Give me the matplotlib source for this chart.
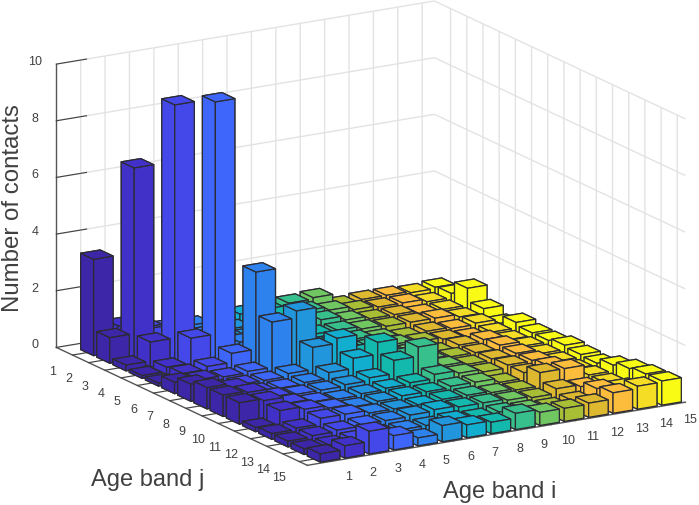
import numpy as np
import matplotlib
matplotlib.use('Agg')
import matplotlib.pyplot as plt
from mpl_toolkits.mplot3d import proj3d

plt.rcParams['font.family'] = ['Liberation Sans', 'DejaVu Sans']

# Contacts per age band, rows are band j, columns are band i
bands = list(range(1, 16))
j01 = [3.4, 0.9, 0.7, 0.55, 0.5, 0.5, 0.6, 0.6, 0.7, 0.75, 0.35, 0.4, 0.4, 0.35, 0.4]
j02 = [0.9, 6.75, 0.7, 0.5, 0.45, 0.5, 0.6, 0.7, 0.7, 0.58, 0.45, 0.4, 0.4, 0.3, 0.45]
j03 = [0.2, 0.87, 9.1, 0.7, 0.5, 0.5, 0.55, 0.7, 0.65, 0.5, 0.4, 0.4, 0.3, 0.3, 0.9]
j04 = [0.1, 0.25, 1.13, 9.33, 0.7, 0.5, 0.5, 0.55, 0.55, 0.45, 0.4, 0.4, 0.4, 0.3, 0.45]
j05 = [0.1, 0.3, 0.4, 0.72, 3.45, 0.8, 0.5, 0.5, 0.5, 0.4, 0.3, 0.35, 0.3, 0.35, 0.2]
j06 = [0.4, 0.35, 0.3, 0.35, 1.95, 2.2, 0.8, 0.5, 0.5, 0.45, 0.4, 0.34, 0.27, 0.3, 0.5]
j07 = [0.6, 0.3, 0.3, 0.3, 0.4, 1.18, 1.36, 0.7, 0.5, 0.45, 0.3, 0.4, 0.45, 0.3, 0.4]
j08 = [0.75, 0.6, 0.3, 0.3, 0.35, 0.56, 0.92, 1.34, 0.7, 0.45, 0.4, 0.4, 0.52, 0.35, 0.4]
j09 = [0.75, 0.7, 0.4, 0.35, 0.35, 0.4, 0.5, 0.97, 1.3, 0.5, 0.4, 0.45, 0.5, 0.35, 0.5]
j10 = [0.75, 0.68, 0.45, 0.35, 0.3, 0.35, 0.4, 0.45, 0.6, 0.5, 0.4, 0.5, 0.52, 0.35, 0.44]
j11 = [0.15, 0.6, 0.5, 0.4, 0.3, 0.35, 0.4, 0.4, 0.45, 0.45, 0.3, 0.5, 0.6, 0.35, 0.4]
j12 = [0.2, 0.25, 0.45, 0.45, 0.35, 0.35, 0.35, 0.4, 0.4, 0.35, 0.3, 0.77, 0.77, 0.4, 0.6]
j13 = [0.2, 0.25, 0.3, 0.35, 0.35, 0.4, 0.45, 0.4, 0.4, 0.35, 0.3, 0.47, 0.4, 0.4, 0.75]
j14 = [0.2, 0.2, 0.25, 0.3, 0.3, 0.3, 0.35, 0.3, 0.35, 0.3, 0.25, 0.32, 0.6, 0.5, 0.83]
j15 = [0.29, 0.43, 0.8, 0.5, 0.28, 0.57, 0.45, 0.4, 0.57, 0.46, 0.46, 0.5, 0.72, 0.81, 0.85]
contacts = [j01, j02, j03, j04, j05, j06, j07, j08, j09, j10, j11, j12, j13, j14, j15]

band_colors = ['#3e26a8', '#4231c9', '#4548e8', '#3f66fa', '#2d82ee', '#2196dc', '#12aecf', '#14b9ae',
               '#38c08c', '#70c660', '#a8bf35', '#deb82e', '#fcbc3c', '#f5dc25', '#f9fb15']
z_ticks = [0, 2, 4, 6, 8, 10]

text_color = '#404040'
grid_color = '#e3e3e3'
width = 0.8

fig = plt.figure(figsize=(6.99, 5.06), dpi=100)
# square axes centred on the projected box
ax = fig.add_axes([111 / 699, 12 / 506, 506 / 699, 1.0], projection='3d', proj_type='ortho', computed_zorder=False)
ax.view_init(elev=16.26, azim=-120.8)
ax.set_box_aspect((440, 490, 295), zoom=1.385)
ax.set_xlim(0, 15.5, view_margin=0)
ax.set_ylim(15.5, 0, view_margin=0)
ax.set_zlim(0, 10, view_margin=0)

# far bars first so the near ones cover them
order = 0
for i in reversed(bands):
    for j in bands:
        bar = ax.bar3d(i - width / 2, j - width / 2, 0, width, width, contacts[j - 1][i - 1],
                       color=band_colors[i - 1], edgecolor='#2b2b33', linewidth=0.9, shade=False, zorder=order)
        bar.set_clip_on(False)
        order += 1

ax.set_xticks(bands)
ax.set_yticks(bands)
ax.set_zticks(z_ticks)
ax.tick_params(colors=text_color, labelsize=1)
for axis in (ax.xaxis, ax.yaxis, ax.zaxis):
    axis.set_pane_color((1, 1, 1, 1))
    axis.pane.set_edgecolor((1, 1, 1, 0))
    axis.line.set_color('#555555')
    axis.line.set_linewidth(1.0)
    axis.label.set_visible(False)
    axis.get_offset_text().set_visible(False)
    axis.set_major_formatter(plt.NullFormatter())
    axis._axinfo['grid']['color'] = grid_color
    axis._axinfo['grid']['linewidth'] = 1.0
    axis._axinfo['tick']['inward_factor'] = 0
    axis._axinfo['tick']['outward_factor'] = 1.0
    axis._axinfo['tick']['color'] = '#404040'
    for tick in axis.get_major_ticks():
        tick.label1.set_visible(False)
        tick.label2.set_visible(False)


# native 3D tick labels only move radially, so place them from data coordinates
def tick_text(x, y, z, label):
    px, py, _ = proj3d.proj_transform(x, y, z, ax.get_proj())
    ax.text2D(px, py, label, transform=ax.transData, fontsize=9, color=text_color, ha='center', va='center')


for i in bands:
    tick_text(i, 16.56, -0.25, str(i))
for j in bands:
    tick_text(-0.82, j, -0.43, str(j))
for z in z_ticks:
    tick_text(-0.86, 0, z + 0.23, str(z))

fig.text(13.5 / 699, 1 - 208 / 506, 'Number of contacts', rotation=90, fontsize=17.3, color=text_color, ha='center', va='center')
fig.text(147.5 / 699, 1 - 480 / 506, 'Age band j', fontsize=17, color=text_color, ha='center', va='center')
fig.text(500 / 699, 1 - 492 / 506, 'Age band i', fontsize=17, color=text_color, ha='center', va='center')

fig.savefig('out.png', dpi=100)
